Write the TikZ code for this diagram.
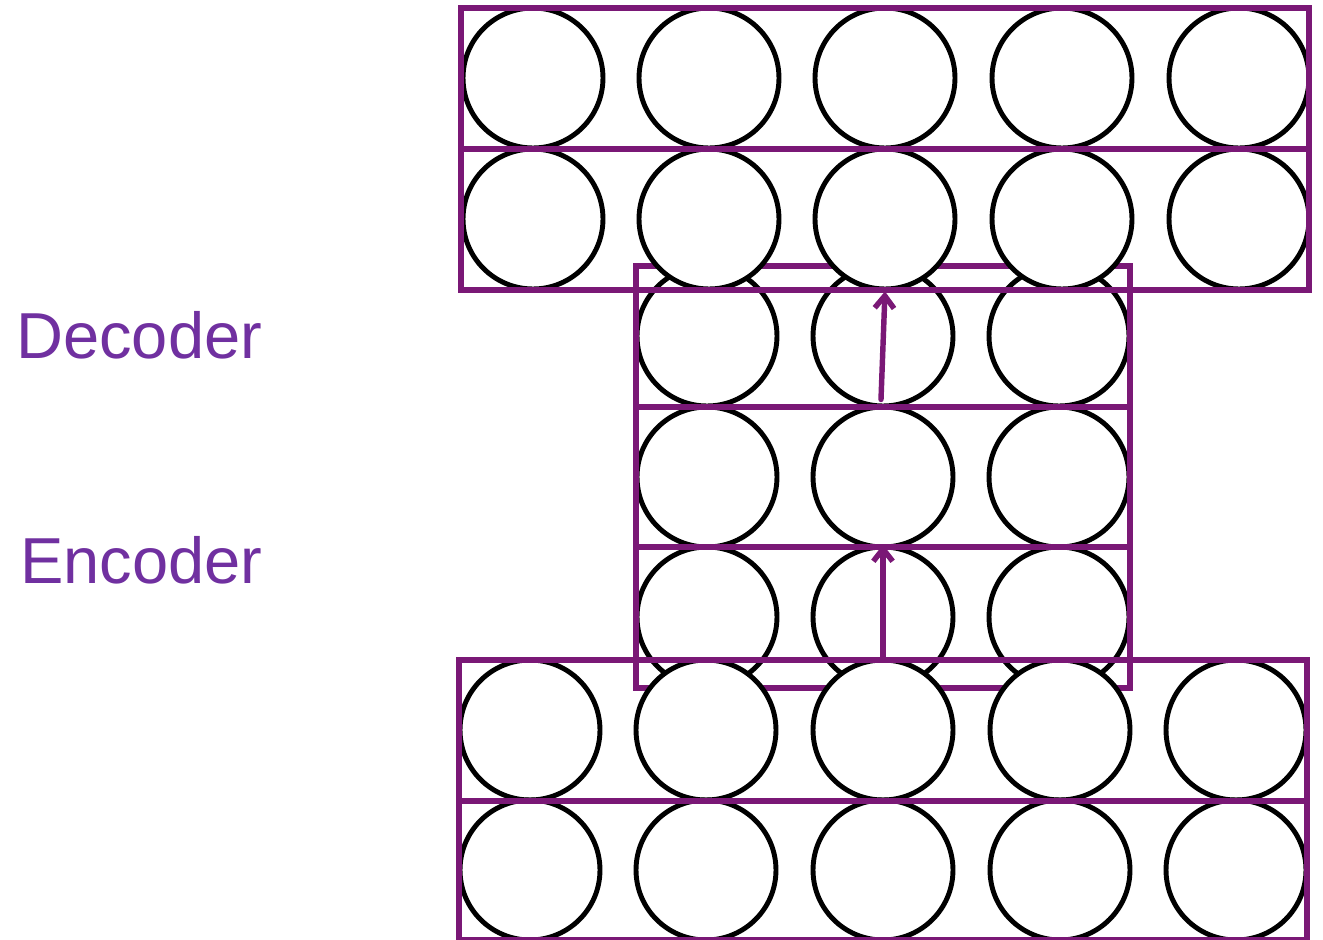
\documentclass[tikz,border=0pt]{standalone}
\usepackage{fontspec}
\newfontfamily\labelfont{Liberation Sans}
\usetikzlibrary{arrows.meta}
\definecolor{layerframe}{RGB}{122,24,118}
\definecolor{labelpurple}{RGB}{112,48,160}

\begin{document}
\begin{tikzpicture}[x=0.02cm, y=-0.02cm,
 unit/.style={circle, draw=black, fill=white, line width=2.8pt,
          minimum size=2.8cm, inner sep=0pt},
 frame/.style={draw=layerframe, line width=2.9pt},
 arrow/.style={-{Straight Barb[length=7pt,width=11pt]}, draw=layerframe,
         line width=3.1pt, line cap=round},
 tag/.style={font=\labelfont\fontsize{37}{44}\selectfont, text=labelpurple,
         inner sep=0pt, anchor=base west}
]
\useasboundingbox (0,0) rectangle (1323,940);
% Narrow code layers in the middle, drawn first so the wide ones overlap them
\foreach \r/\y in {1/336,2/477,3/617}
 \foreach \c/\x in {1/707,2/883,3/1059}
  \node[unit] (m\r\c) at (\x,\y) {};
\draw[frame] (636,266) rectangle (1130,688);
\draw[frame] (636,407) -- (1130,407);
\draw[frame] (636,547) -- (1130,547);
% Wide output layers on top
\foreach \r/\y in {1/78,2/219}
 \foreach \c/\x in {1/533,2/709,3/885,4/1062,5/1239}
  \node[unit] (t\r\c) at (\x,\y) {};
\draw[frame] (461,8) rectangle (1309,290);
\draw[frame] (461,149) -- (1309,149);
% Wide input layers at the bottom
\foreach \r/\y in {1/730,2/870}
 \foreach \c/\x in {1/530,2/706,3/883,4/1060,5/1236}
  \node[unit] (b\r\c) at (\x,\y) {};
\draw[frame] (459,660) rectangle (1307,940);
\draw[frame] (459,801) -- (1307,801);
% Flow through the stack
\draw[arrow] (b13.north) -- (m32.north);
\draw[arrow] ([shift={(-2,-9)}]m12.south) -- (t23.south);
% Side labels
\node[tag] (decoder) at (16,358) {Decoder};
\node[tag] (encoder) at (20,583) {Encoder};
\end{tikzpicture}
\end{document}
